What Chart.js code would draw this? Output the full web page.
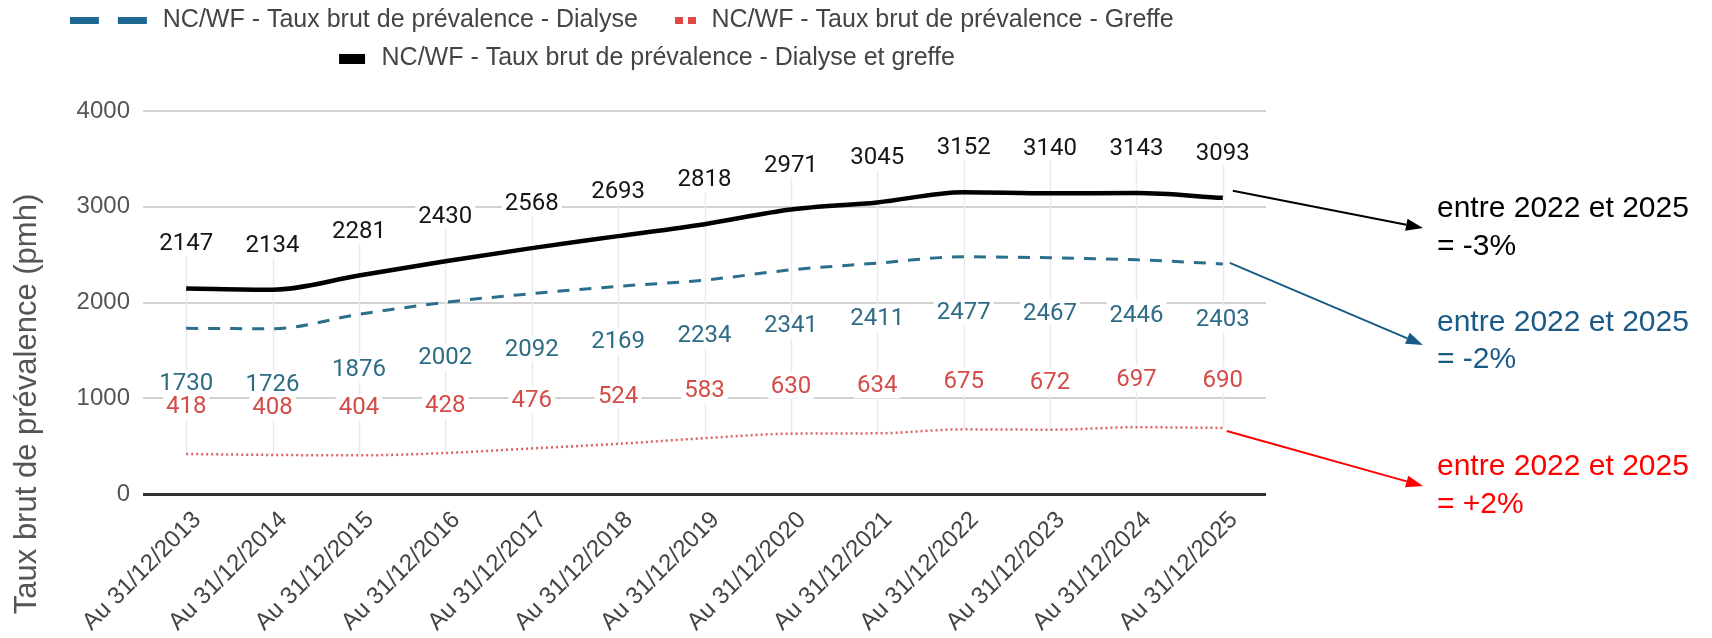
<!DOCTYPE html>
<html>
<head>
<meta charset="utf-8">
<script src="https://cdn.jsdelivr.net/npm/chart.js@4.4.1/dist/chart.umd.min.js"></script>
<style>
html,body{margin:0;padding:0;background:#ffffff;}
#wrap{width:1712px;height:638px;position:relative;overflow:hidden;}
canvas{display:block;}
</style>
</head>
<body>
<div id="wrap"><canvas id="c" width="1712" height="638"></canvas></div>
<script>
// ---------- data ----------
const categories = ["Au 31/12/2013","Au 31/12/2014","Au 31/12/2015","Au 31/12/2016","Au 31/12/2017","Au 31/12/2018","Au 31/12/2019","Au 31/12/2020","Au 31/12/2021","Au 31/12/2022","Au 31/12/2023","Au 31/12/2024","Au 31/12/2025"];
const dialyse = [1730,1726,1876,2002,2092,2169,2234,2341,2411,2477,2467,2446,2403];
const greffe = [418,408,404,428,476,524,583,630,634,675,672,697,690];
const dialyseEtGreffe = [2147,2134,2281,2430,2568,2693,2818,2971,3045,3152,3140,3143,3093];
const seriesLabels = ["NC/WF - Taux brut de prévalence - Dialyse","NC/WF - Taux brut de prévalence - Greffe","NC/WF - Taux brut de prévalence - Dialyse et greffe"];
const yTickValues = [0,1000,2000,3000,4000];
const yAxisTitle = "Taux brut de prévalence (pmh)";
const annotationTexts = [["entre 2022 et 2025","= -3%"],["entre 2022 et 2025","= -2%"],["entre 2022 et 2025","= +2%"]];

// ---------- styles ----------
const FONT = "'Liberation Sans', Arial, sans-serif";
const LABEL_FONT = "24px Roboto, 'Liberation Sans', sans-serif";
Chart.defaults.font.family = FONT;

function marker(w,h,rects,color){
  const c=document.createElement('canvas'); c.width=w; c.height=h;
  const x=c.getContext('2d'); x.fillStyle=color;
  rects.forEach(r=>x.fillRect(r[0],r[1],r[2],r[3]));
  return c;
}
const markers = [
  marker(113,7,[[0,0,29,7],[48,0,29,7]],'#1d6890'),
  marker(42,7,[[21,0,8,7],[34,0,8,7]],'#e04848'),
  marker(42,10,[[15,0,26,10]],'#000000')
];

const LEGEND_TOP = -5, CHART_TOP = 111, LEFT_PAD = 10, PLOT_LEFT = 143, PLOT_RIGHT = 1266;
const layoutPlugin = {
  id:'fixLayout',
  beforeLayout(chart){
    const lg = chart.legend;
    if(lg && !lg.__fixed){
      const f = lg.fit;
      lg.fit = function(){ f.call(this); this.height = CHART_TOP - LEGEND_TOP; };
      lg.__fixed = true;
    }
  }
};

const labelStyles = [
  {color:'#2e6c86', dy:55},
  {color:'#d44b47', dy:-48},
  {color:'#151515', dy:-45}
];

const valueLabelsPlugin = {
  id:'valueLabels',
  beforeDatasetsDraw(chart){
    const ctx = chart.ctx;
    const mTop = chart.getDatasetMeta(2), mBot = chart.getDatasetMeta(1);
    ctx.save();
    ctx.strokeStyle = '#ebebeb'; ctx.lineWidth = 1.5;
    mTop.data.forEach((pt,i)=>{
      const y1 = pt.y + labelStyles[2].dy;
      const y2 = mBot.data[i].y;
      ctx.beginPath(); ctx.moveTo(Math.round(pt.x)+0.5,y1); ctx.lineTo(Math.round(pt.x)+0.5,y2); ctx.stroke();
    });
    ctx.font = LABEL_FONT; ctx.textAlign='center'; ctx.textBaseline='middle';
    chart.data.datasets.forEach((ds,di)=>{
      const meta = chart.getDatasetMeta(di);
      const st = labelStyles[di];
      meta.data.forEach((pt,i)=>{
        const t = String(ds.data[i]);
        const w = ctx.measureText(t).width;
        const x = pt.x, y = pt.y + st.dy;
        ctx.fillStyle='#ffffff'; ctx.fillRect(x-w/2-3,y-13,w+6,26);
        ctx.fillStyle=st.color; ctx.fillText(t,x,y+1);
      });
    });
    ctx.restore();
  }
};

const annotStyles = [
  {ds:2, color:'#000000', sdx:10, sdy:-7, endX:1423, endY:228, textX:1437, textY:[209,247]},
  {ds:0, color:'#1a5a86', sdx:7, sdy:-1, endX:1423, endY:345, textX:1437, textY:[323,360]},
  {ds:1, color:'#ff0000', sdx:4, sdy:3, endX:1423, endY:486, textX:1437, textY:[467,505]}
];
const annotPlugin = {
  id:'annot',
  afterDraw(chart){
    const ctx = chart.ctx;
    ctx.save();
    annotStyles.forEach((a,k)=>{
      const meta = chart.getDatasetMeta(a.ds);
      const pt = meta.data[meta.data.length-1];
      const sx = pt.x + a.sdx, sy = pt.y + a.sdy;
      const ex = a.endX, ey = a.endY;
      const ang = Math.atan2(ey-sy, ex-sx);
      const hl = 17, hw = 6;
      ctx.strokeStyle = a.color; ctx.fillStyle = a.color; ctx.lineWidth = 2;
      ctx.beginPath(); ctx.moveTo(sx,sy);
      ctx.lineTo(ex - hl*Math.cos(ang), ey - hl*Math.sin(ang)); ctx.stroke();
      ctx.beginPath();
      ctx.moveTo(ex,ey);
      ctx.lineTo(ex - hl*Math.cos(ang) + hw*Math.sin(ang), ey - hl*Math.sin(ang) - hw*Math.cos(ang));
      ctx.lineTo(ex - hl*Math.cos(ang) - hw*Math.sin(ang), ey - hl*Math.sin(ang) + hw*Math.cos(ang));
      ctx.closePath(); ctx.fill();
      ctx.font = "30px " + FONT; ctx.textAlign='left'; ctx.textBaseline='middle';
      annotationTexts[k].forEach((line,j)=> ctx.fillText(line, a.textX, a.textY[j]));
    });
    // y axis title
    ctx.translate(27, 404); ctx.rotate(-Math.PI/2);
    ctx.font = "31px " + FONT; ctx.fillStyle = '#555555';
    ctx.textAlign='center'; ctx.textBaseline='middle';
    ctx.fillText(yAxisTitle, 0, 0);
    ctx.restore();
  }
};

new Chart(document.getElementById('c'), {
  type:'line',
  data:{
    labels: categories,
    datasets:[
      {label:seriesLabels[0], data:dialyse, borderColor:'#2b6f8c', borderWidth:3, borderDash:[12,10], pointRadius:0, fill:false, cubicInterpolationMode:'monotone'},
      {label:seriesLabels[1], data:greffe, borderColor:'#df6262', borderWidth:2.5, borderDash:[2,3], pointRadius:0, fill:false, cubicInterpolationMode:'monotone'},
      {label:seriesLabels[2], data:dialyseEtGreffe, borderColor:'#000000', borderWidth:4.5, pointRadius:0, fill:false, cubicInterpolationMode:'monotone'}
    ]
  },
  options:{
    responsive:false, animation:false, devicePixelRatio:1,
    layout:{padding:{top:LEGEND_TOP, right:1712-PLOT_RIGHT, left:LEFT_PAD, bottom:0}},
    plugins:{
      tooltip:{enabled:false},
      legend:{
        position:'top',
        labels:{
          usePointStyle:true, pointStyleWidth:48, padding:13, color:'#444444',
          font:{family:FONT, size:25},
          generateLabels(chart){
            const items = Chart.defaults.plugins.legend.labels.generateLabels(chart);
            items.forEach(it=>{ it.pointStyle = markers[it.datasetIndex]; it.lineDash=[]; });
            return items;
          }
        }
      }
    },
    scales:{
      x:{
        offset:true,
        grid:{display:false},
        border:{display:false},
        ticks:{minRotation:45, maxRotation:45, autoSkip:false, color:'#444444', font:{family:FONT,size:24}, padding:4, labelOffset:11},
        afterFit(s){ s.height = 144; }
      },
      y:{
        min:0, max:4000,
        afterBuildTicks(s){ s.ticks = yTickValues.map(v=>({value:v})); },
        grid:{
          color:(c)=> (c.tick && c.tick.value===0) ? '#333333' : '#d2d2d2',
          lineWidth:(c)=> (c.tick && c.tick.value===0) ? 3 : 2,
          drawTicks:false
        },
        border:{display:false},
        ticks:{color:'#555555', font:{family:FONT,size:24}, padding:13, callback:(v)=>String(v)},
        afterFit(s){ s.width = PLOT_LEFT - LEFT_PAD; }
      }
    }
  },
  plugins:[layoutPlugin, valueLabelsPlugin, annotPlugin]
});
</script>
</body>
</html>
